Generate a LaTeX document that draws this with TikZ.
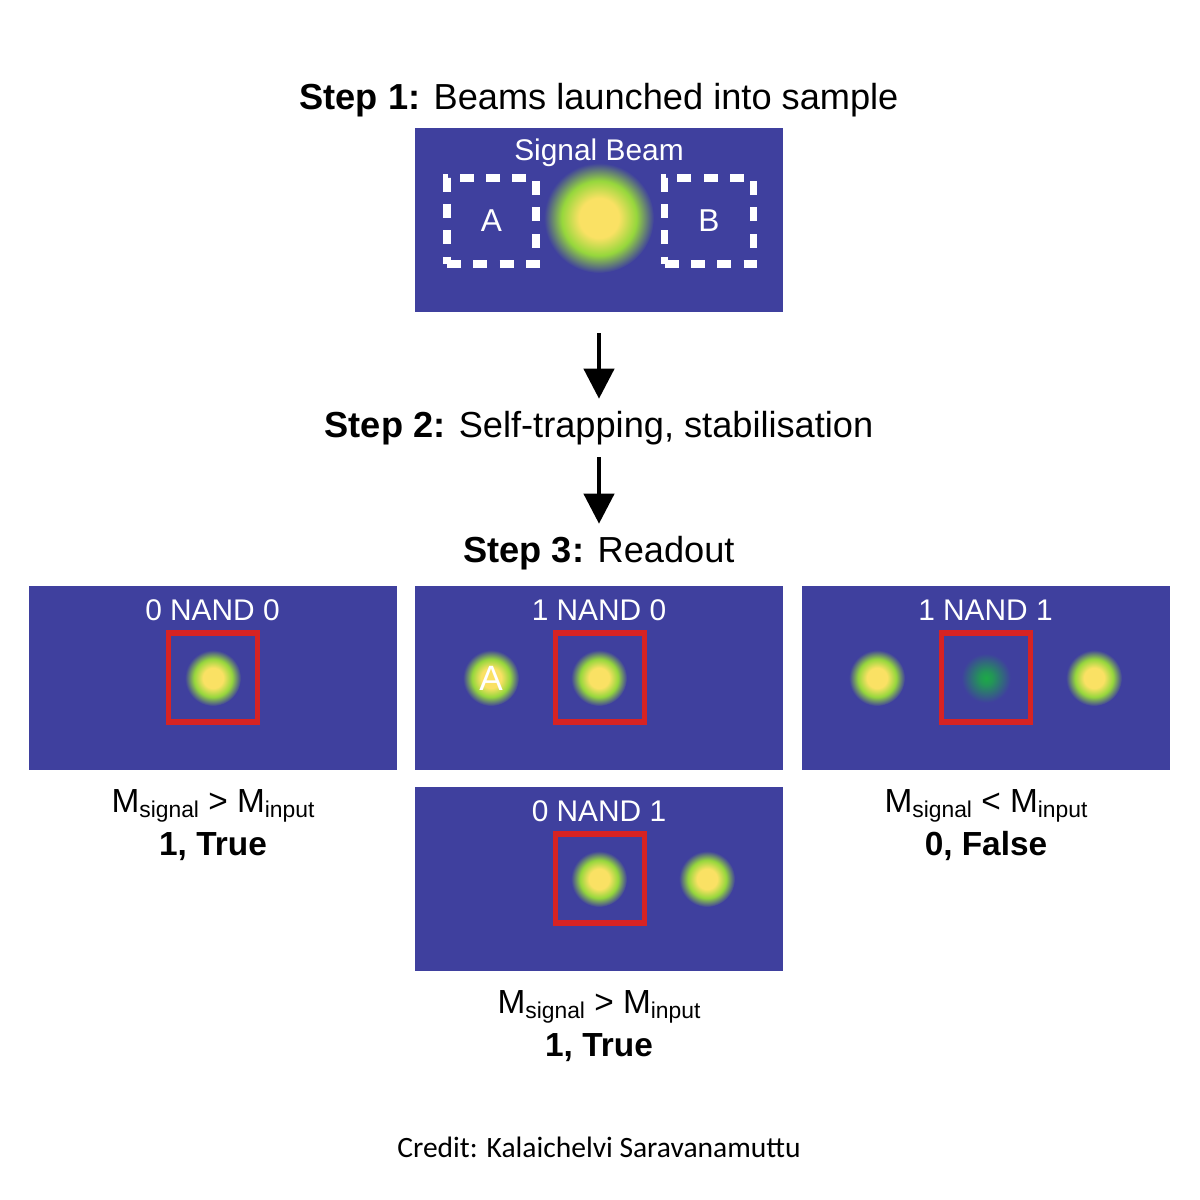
\documentclass[tikz,border=0pt]{standalone}
\usepackage{fontspec}
\setmainfont{Liberation Sans}
\newfontfamily\creditfont{Carlito}
\usetikzlibrary{positioning,arrows.meta,calc}
\definecolor{panelblue}{RGB}{63,64,158}
\definecolor{beamyellow}{RGB}{250,225,100}
\definecolor{beamgreen}{RGB}{150,215,60}
\definecolor{boxred}{RGB}{215,35,35}
\pgfdeclareradialshading{beamshade}{\pgfpoint{0bp}{0bp}}{color(0bp)=(beamyellow); color(9bp)=(beamyellow); color(17bp)=(beamgreen); color(25bp)=(panelblue); color(50bp)=(panelblue)}
\pgfdeclareradialshading{faintshade}{\pgfpoint{0bp}{0bp}}{color(0bp)=(green!55!panelblue); color(6bp)=(green!45!panelblue); color(22bp)=(panelblue); color(50bp)=(panelblue)}
\tikzstyle{panel}=[rectangle, fill=panelblue, minimum width=3.68cm, minimum height=1.84cm, inner sep=0pt]
\tikzstyle{beam}=[circle, minimum size=0.56cm, inner sep=0pt, shading=beamshade, text=white]
\tikzstyle{bigbeam}=[beam, minimum size=1.1cm]
\tikzstyle{faint}=[beam, shading=faintshade]
\tikzstyle{rbox}=[rectangle, draw=boxred, line width=1.6pt, minimum size=0.89cm]
\tikzstyle{dbox}=[rectangle, draw=white, line width=2pt, dash pattern=on 4pt off 3.5pt, minimum width=0.89cm, minimum height=0.86cm, text=white, font=\fontsize{9}{11}\selectfont]
\tikzstyle{ptitle}=[text=white, font=\fontsize{8.5}{10}\selectfont]
\tikzstyle{stepline}=[font=\fontsize{10.3}{12}\selectfont]
\tikzstyle{result}=[font=\fontsize{9.5}{11}\selectfont, align=center]
\tikzstyle{parrow}=[-{Triangle[length=3mm,width=3mm]}, line width=1.2pt]
\newcommand{\mratio}[1]{M{\fontsize{6.5}{7}\selectfont\raisebox{-0.35ex}{signal}} #1 M{\fontsize{6.5}{7}\selectfont\raisebox{-0.35ex}{input}}}
\begin{document}
\begin{tikzpicture}
\useasboundingbox (0,0) rectangle (12,-12);
\node (S1) [stepline] at (5.99,-1.00) {\textbf{Step 1:} Beams launched into sample};
\node (P1) [panel] at (5.99,-2.195) {};
\node [ptitle] at (5.99,-1.53) {Signal Beam};
\node (A) [dbox] at (4.915,-2.21) {A};
\node (B) [dbox] at (7.09,-2.21) {B};
\node (SB) [bigbeam] at (5.99,-2.18) {};
\node (S2) [stepline] at (5.99,-4.28) {\textbf{Step 2:} Self-trapping, stabilisation};
\draw[parrow] (5.99,-3.33) -- (S2.north);
\node (S3) [stepline] at (5.99,-5.53) {\textbf{Step 3:} Readout};
\draw[parrow] (S2.south) -- (S3.north);
% readout panels
\node (P00) [panel] at (2.125,-6.78) {};
\node [ptitle] at (2.125,-6.10) {0 NAND 0};
\node (R00) [rbox] at (2.13,-6.775) {};
\node [beam] at (2.13,-6.78) {};
\node (P10) [panel] at (5.99,-6.78) {};
\node [ptitle] at (5.99,-6.10) {1 NAND 0};
\node [beam] at (4.91,-6.78) {A};
\node (R10) [rbox] at (6.00,-6.775) {};
\node [beam] at (5.99,-6.78) {};
\node (P11) [panel] at (9.855,-6.78) {};
\node [ptitle] at (9.855,-6.10) {1 NAND 1};
\node [beam] at (8.77,-6.78) {};
\node (R11) [rbox] at (9.86,-6.775) {};
\node [faint] at (9.86,-6.78) {};
\node [beam] at (10.94,-6.78) {};
\node (P01) [panel] at (5.99,-8.785) {};
\node [ptitle] at (5.99,-8.11) {0 NAND 1};
\node (R01) [rbox] at (6.00,-8.785) {};
\node [beam] at (5.99,-8.79) {};
\node [beam] at (7.07,-8.79) {};
% results
\node (T00) [result] at (2.13,-8.25) {\mratio{>}\\[1pt]\textbf{1, True}};
\node (T11) [result] at (9.86,-8.25) {\mratio{<}\\[1pt]\textbf{0, False}};
\node (T01) [result] at (5.99,-10.26) {\mratio{>}\\[1pt]\textbf{1, True}};
\node (CR) [font=\creditfont\fontsize{8.4}{10}\selectfont] at (5.99,-11.47) {Credit: Kalaichelvi Saravanamuttu};
\end{tikzpicture}
\end{document}
